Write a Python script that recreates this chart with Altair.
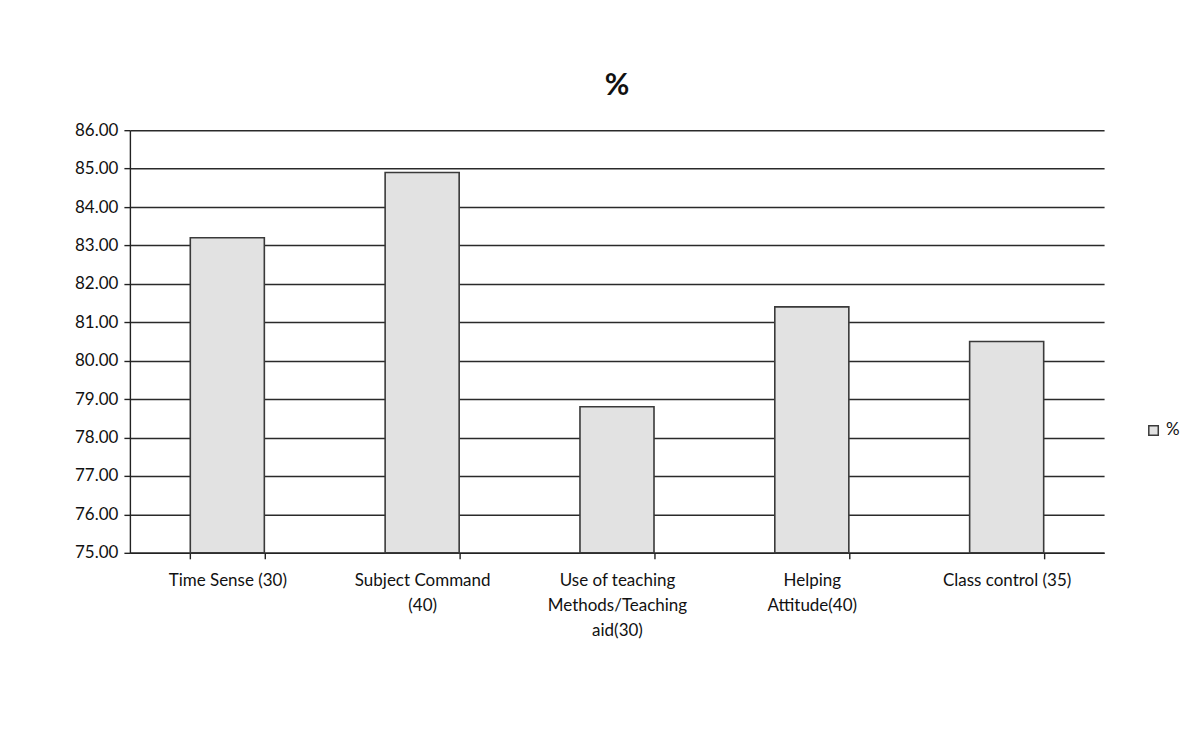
import altair as alt
import pandas as pd

categories = ["Time Sense (30)", "Subject Command|(40)", "Use of teaching|Methods/Teaching|aid(30)",
              "Helping|Attitude(40)", "Class control (35)"]
values = [83.2, 84.9, 78.8, 81.4, 80.5]
series = ["%"] * 5
y_ticks = [75, 76, 77, 78, 79, 80, 81, 82, 83, 84, 85, 86]

df = pd.DataFrame({"category": categories, "value": values, "series": series})

font = "Lato"

bars = alt.Chart(df).mark_bar(
    fill="#e2e2e2", strokeWidth=1.6
).encode(
    x=alt.X("category:N", sort=categories, title=None,
            scale=alt.Scale(paddingInner=0.62, paddingOuter=0.31),
            axis=alt.Axis(labelAngle=0, labelExpr="split(datum.label, '|')",
                          labelFontSize=17, labelColor="#111", labelFont=font,
                          labelPadding=14, labelLineHeight=25, labelBaseline="top",
                          domainColor="#222", domainWidth=1.6,
                          tickColor="#222", tickWidth=1.4, tickSize=6, tickBand="extent",
                          grid=False)),
    y=alt.Y("value:Q", title=None,
            scale=alt.Scale(domain=[y_ticks[0], y_ticks[-1]], nice=False, zero=False),
            axis=alt.Axis(values=y_ticks, format=".2f",
                          labelFontSize=17, labelColor="#111", labelFont=font,
                          labelPadding=6,
                          domainColor="#222", domainWidth=1.4,
                          tickColor="#222", tickSize=6, tickWidth=1.4,
                          grid=True, gridColor="#2a2a2a", gridWidth=1.5)),
    y2=alt.datum(y_ticks[0]),
    stroke=alt.Stroke("series:N", title=None,
                      scale=alt.Scale(domain=["%"], range=["#3a3a3a"]),
                      legend=alt.Legend(orient="none", legendX=1016, legendY=292,
                                        symbolType="square",
                                        symbolSize=90, symbolFillColor="#8c8c8c",
                                        symbolStrokeWidth=1.5,
                                        labelFontSize=17, labelFont=font, labelColor="#111")),
).properties(
    width=975, height=423,
    title=alt.Title("%", fontSize=30, fontWeight="bold", font=font, color="#111", offset=20),
    padding={"left": 122, "top": 122, "right": 92, "bottom": 120},
    autosize="none",
)

chart = bars.configure_view(stroke=None).properties(background="#ffffff")
chart.save("out.html", embed_options={"renderer": "svg", "actions": False})
